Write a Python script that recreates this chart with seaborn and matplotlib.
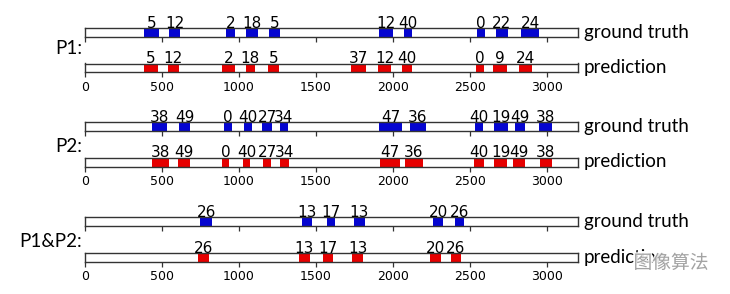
import matplotlib
matplotlib.use("Agg")
import matplotlib.pyplot as plt
import matplotlib.patheffects as pe
import seaborn as sns

# ---------------- data ----------------
tick_values = [0, 500, 1000, 1500, 2000, 2500, 3000]
x_max = 3200

group_names = ["P1:", "P2:", "P1&P2:"]
row_names = ["ground truth", "prediction"]

p1_gt_start = [385, 545, 913, 1045, 1192, 1907, 2069, 2543, 2667, 2831]
p1_gt_end = [481, 617, 972, 1121, 1264, 1996, 2123, 2597, 2745, 2948]
p1_gt_labels = ["5", "12", "2", "18", "5", "12", "40", "0", "22", "24"]

p1_pred_start = [385, 537, 892, 1043, 1190, 1727, 1905, 2060, 2536, 2649, 2820]
p1_pred_end = [474, 610, 974, 1101, 1262, 1825, 1987, 2123, 2592, 2740, 2900]
p1_pred_labels = ["5", "12", "2", "18", "5", "37", "12", "40", "0", "9", "24"]

p2_gt_start = [433, 613, 905, 1030, 1150, 1266, 1911, 2110, 2534, 2658, 2788, 2950]
p2_gt_end = [535, 682, 955, 1084, 1214, 1316, 2058, 2212, 2584, 2745, 2857, 3028]
p2_gt_labels = ["38", "49", "0", "40", "27", "34", "47", "36", "40", "19", "49", "38"]

p2_pred_start = [433, 602, 892, 1024, 1154, 1264, 1916, 2075, 2526, 2658, 2779, 2952]
p2_pred_end = [543, 682, 937, 1073, 1210, 1325, 2044, 2192, 2589, 2742, 2853, 3030]
p2_pred_labels = ["38", "49", "0", "40", "27", "34", "47", "36", "40", "19", "49", "38"]

p12_gt_start = [747, 1407, 1569, 1745, 2262, 2399]
p12_gt_end = [827, 1476, 1620, 1815, 2323, 2458]
p12_gt_labels = ["26", "13", "17", "13", "20", "26"]

p12_pred_start = [736, 1387, 1542, 1731, 2242, 2374]
p12_pred_end = [807, 1458, 1611, 1807, 2312, 2442]
p12_pred_labels = ["26", "13", "17", "13", "20", "26"]

watermark = "图像算法"

# ---------------- style ----------------
sns.set_theme(style="white")
plt.rcParams["font.family"] = ["DejaVu Sans"]

gt_color = "#0505d0"
pred_color = "#e60000"

W, H = 730, 294
fig = plt.figure(figsize=(W / 100, H / 100), dpi=100)

ax_left = 85 / W
ax_width = (578 - 85) / W
ax_height = 8.8 / H

rows = [
    # start, end, labels, color, bottom pixel (from top), show tick labels
    (p1_gt_start, p1_gt_end, p1_gt_labels, gt_color, 36.8, False),
    (p1_pred_start, p1_pred_end, p1_pred_labels, pred_color, 72.3, True),
    (p2_gt_start, p2_gt_end, p2_gt_labels, gt_color, 131.2, False),
    (p2_pred_start, p2_pred_end, p2_pred_labels, pred_color, 166.5, True),
    (p12_gt_start, p12_gt_end, p12_gt_labels, gt_color, 226.0, False),
    (p12_pred_start, p12_pred_end, p12_pred_labels, pred_color, 261.6, True),
]

for i, (starts, ends, labels, color, bottom_px, show_labels) in enumerate(rows):
    ax = fig.add_axes([ax_left, 1 - bottom_px / H, ax_width, ax_height])
    widths = [e - s for s, e in zip(starts, ends)]
    ax.barh([0] * len(starts), widths, left=starts, height=1.0,
            color=color, edgecolor="none")
    ax.set_xlim(0, x_max)
    ax.set_ylim(-0.5, 0.5)
    ax.set_yticks([])
    ax.set_xticks(tick_values)
    ax.tick_params(axis="x", direction="out", length=3.5, width=0.9,
                   color="#333333", bottom=True, labelsize=9, pad=2.5,
                   labelcolor="black")
    if not show_labels:
        ax.set_xticklabels([])
    for sp in ax.spines.values():
        sp.set_color("#333333")
        sp.set_linewidth(1.0)
        sp.set_visible(True)
    for s, e, lab in zip(starts, ends, labels):
        ax.annotate(lab, xy=((s + e) / 2, 0.5), xycoords="data",
                    xytext=(0, 0.2), textcoords="offset points",
                    ha="center", va="baseline", fontsize=11,
                    color="black", annotation_clip=False)
    # right-side row name
    fig.text(584 / W, 1 - (bottom_px - 4.6) / H, row_names[i % 2],
             ha="left", va="center", fontsize=13.5, family=["Lato", "DejaVu Sans"],
             color="black")

# group names
group_y = [48.5, 146.5, 241.5]
for name, y in zip(group_names, group_y):
    fig.text(82 / W, 1 - y / H, name, ha="right", va="center",
             fontsize=13.5, family=["Lato", "DejaVu Sans"], color="black")

# watermark
fig.text(671 / W, 1 - 263 / H, watermark, ha="center", va="center",
         fontsize=13.5, family=["Noto Sans CJK SC", "DejaVu Sans"],
         color="#9a9a9a", alpha=0.9,
         path_effects=[pe.withStroke(linewidth=2, foreground="white")])

fig.savefig("out.png", dpi=100)
